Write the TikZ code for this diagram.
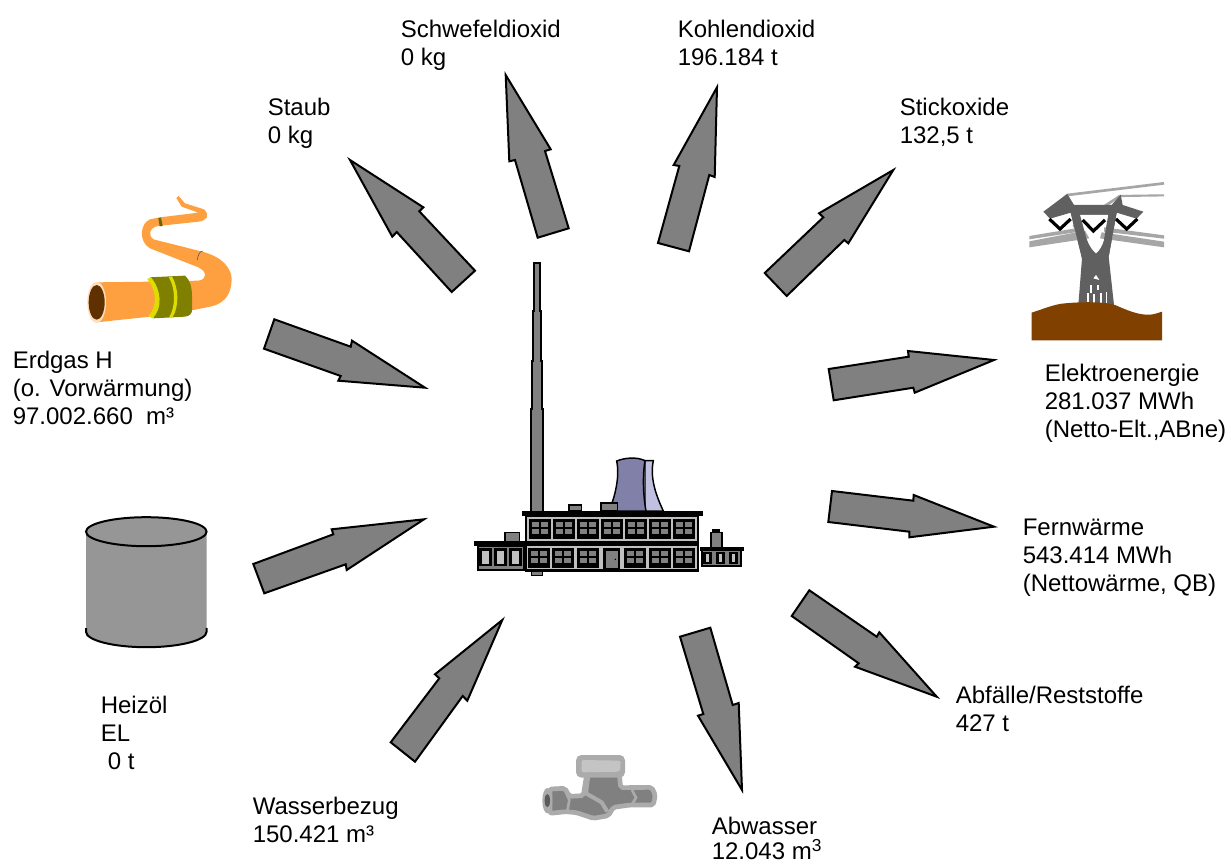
\documentclass[tikz,border=0pt]{standalone}
\usepackage{fontspec}
\setmainfont{Liberation Sans}
\definecolor{arrowgray}{HTML}{808080}
\definecolor{pipeorange}{HTML}{FFA040}
\definecolor{bandolive}{HTML}{808000}
\definecolor{rimyellow}{HTML}{DDDD00}
\definecolor{mouthcream}{HTML}{FFDDBB}
\definecolor{mouthbrown}{HTML}{5F3000}
\definecolor{soil}{HTML}{804000}
\definecolor{towergray}{HTML}{606060}
\definecolor{wiregray}{HTML}{A6A6A6}
\definecolor{barrelgray}{HTML}{969696}
\definecolor{wallgray}{HTML}{C0C0C0}
\definecolor{coolA}{HTML}{8080A8}
\definecolor{coolB}{HTML}{C0C0E0}
\definecolor{valveA}{HTML}{ABABAB}
\definecolor{valveB}{HTML}{808080}
\definecolor{valveC}{HTML}{C4C4C4}
\tikzset{
  flow/.style={draw=black,fill=arrowgray,line width=1.5pt,miter limit=10,line join=miter},
  lab/.style={anchor=north west,inner sep=0pt,align=left,font=\fontsize{18}{21}\selectfont},
  plantline/.style={draw=black,line width=1.1pt},
}
\newcommand{\blockarrow}[7]{\path[flow] #1 -- #2 -- #3 -- #4 -- #5 -- #6 -- #7 -- cycle;}
\newcommand{\winA}[2]{%
  \fill[black] (#1,#2) rectangle ++(66,58);
  \fill[arrowgray] (#1+9,#2+8) rectangle ++(21,16);
  \fill[arrowgray] (#1+36,#2+8) rectangle ++(21,16);
  \fill[arrowgray] (#1+9,#2+30) rectangle ++(21,15);
  \fill[arrowgray] (#1+36,#2+30) rectangle ++(21,15);
}
\begin{document}
\begin{tikzpicture}[x=0.75pt,y=-0.75pt]
\useasboundingbox (0,0) rectangle (1231,866);
\fill[white] (0,0) rectangle (1231,866);

% --- flow arrows
\blockarrow{(350,160)}{(423.3,207.3)}{(419.3,211.3)}{(475,270.7)}{(451.7,292)}{(396.7,232)}{(392.3,236.7)}
\blockarrow{(505.7,75)}{(550.7,149.3)}{(545,151)}{(568.7,228.3)}{(537.7,237.7)}{(515,160)}{(509.3,161.3)}
\blockarrow{(717,87.3)}{(714.7,177)}{(709.3,175)}{(689,251.3)}{(658,243)}{(679.3,166)}{(673.7,165)}
\blockarrow{(893.3,170)}{(848.3,243.3)}{(844.3,240)}{(786.7,296)}{(764.7,273)}{(823.3,217.3)}{(819,213.3)}
\blockarrow{(994,360)}{(914.7,392.7)}{(913.3,387.7)}{(833.7,400.3)}{(828.7,369)}{(908.7,356.7)}{(908,351)}
\blockarrow{(994,526.7)}{(909.3,537.3)}{(909.3,531.7)}{(828.3,522)}{(832,491)}{(913.3,500.7)}{(913.7,495)}
\blockarrow{(936.7,696.7)}{(855,666.7)}{(858.7,663.3)}{(791.7,616)}{(809.3,590.3)}{(876.7,636.7)}{(879.3,632.3)}
\blockarrow{(742,790)}{(698,715.7)}{(703.3,714)}{(680,636.7)}{(710.3,627.7)}{(732.7,705)}{(738.7,703)}
\blockarrow{(425,387.7)}{(338.3,380.7)}{(340.7,376)}{(264,348.7)}{(274.3,319.3)}{(350.7,346.7)}{(352,340.7)}
\blockarrow{(424,519.3)}{(346.7,570)}{(345.7,564.3)}{(264.3,593.3)}{(253.3,564)}{(333.3,534.3)}{(331.7,529.3)}
\blockarrow{(502.3,620)}{(467.3,700.7)}{(462.7,696)}{(415,761.7)}{(390.7,742.3)}{(439.3,678.3)}{(435,674.3)}

% --- labels
\node[lab] (so2) at (400.5,19.5) {Schwefeldioxid\\0 kg};
\node[lab] (co2) at (677.5,19.5) {Kohlendioxid\\196.184 t};
\node[lab] (staub) at (267.5,98) {Staub\\0 kg};
\node[lab] (nox) at (899.5,98) {Stickoxide\\132,5 t};
\node[lab] (gas) at (12.5,351) {Erdgas H\\(o. Vorwärmung)\\97.002.660\ \ m³};
\node[lab] (elt) at (1044.5,363.5) {Elektroenergie\\281.037 MWh\\(Netto-Elt.,ABne)};
\node[lab] (fw) at (1022.5,519) {Fernwärme\\543.414 MWh\\(Nettowärme, QB)};
\node[lab] (abf) at (955.5,686) {Abfälle/Reststoffe\\427 t};
\node[lab] (abw) at (711.5,817) {Abwasser\\[-2pt]12.043 m\raisebox{6pt}{\fontsize{13}{13}\selectfont 3}};
\node[lab] (was) at (252.5,797) {Wasserbezug\\150.421 m³};
\node[lab] (oil) at (100.5,696) {Heizöl\\EL\\\hspace*{5.25pt}0 t};

% --- oil barrel
\fill[barrelgray] (86,531.7) -- (86,631.7) arc[start angle=180,end angle=0,x radius=60.3,y radius=15.5] -- (206.7,531.7) -- cycle;
\draw[line width=1.5pt] (86,628) -- (86,631.7) arc[start angle=180,end angle=0,x radius=60.3,y radius=15.5] -- (206.7,628);
\draw[line width=1.5pt,fill=barrelgray] (146.3,531.7) ellipse[x radius=60.3,y radius=14.5];

% --- gas pipe
\begin{scope}[shift={(70,180)},x=0.25pt,y=-0.25pt]
\fill[pipeorange] (80,427) -- (240,410) -- (360,392) -- (420,380) .. controls (470,370) and (485,335) .. (485,295)
  .. controls (480,245) and (430,222) .. (385,212) -- (250,178) .. controls (235,170) and (235,142) .. (265,138)
  -- (385,125) .. controls (412,122) and (420,105) .. (402,88) -- (345,70) -- (326,48) -- (319,54) -- (335,80) -- (385,98)
  -- (270,112) -- (240,118) .. controls (210,130) and (205,185) .. (240,205) -- (385,262)
  .. controls (412,275) and (412,298) .. (385,302) -- (240,305) -- (80,307) -- cycle;
\fill[bandolive] (240,292) -- (345,287) .. controls (360,300) and (366,320) .. (366,350) -- (366,390) .. controls (366,400) and (360,408) .. (345,410) -- (250,415) .. controls (262,380) and (262,330) .. (240,292) -- cycle;
\fill[rimyellow] (232,298) -- (242,291) .. controls (275,330) and (278,385) .. (248,415) -- (234,408) .. controls (262,385) and (262,330) .. (232,298) -- cycle;
\fill[rimyellow] (296,291) -- (306,290) .. controls (327,325) and (327,380) .. (308,411) -- (298,411) .. controls (317,380) and (317,325) .. (296,291) -- cycle;
\fill[bandolive!80!black] (265,114) -- (273,113) -- (278,138) -- (269,139) -- cycle;
\draw[black!70,line width=0.4pt] (382,240) .. controls (384,225) and (388,215) .. (398,213);
\fill[mouthcream] (80,367) ellipse[x radius=28,y radius=62];
\fill[mouthbrown] (80,367) ellipse[x radius=24,y radius=52];
\end{scope}

% --- pylon
\begin{scope}[shift={(1010,170)},x=0.25pt,y=-0.25pt]
\draw[wiregray,line width=2pt] (172,75) -- (462,40);
\draw[wiregray,line width=1.6pt] (330,78) -- (462,76);
\draw[wiregray,line width=2pt] (172,75) -- (122,115);
\draw[wiregray,line width=2pt] (330,78) -- (190,170);
\fill[towergray] (100,125) -- (172,72) -- (192,105) -- (305,105) -- (332,74) -- (338,105) -- (400,125) -- (380,146) -- (320,128) -- (296,260) -- (312,405) -- (205,405) -- (216,265) -- (182,128) -- (120,146) -- cycle;
\fill[white] (208,135) .. controls (222,195) and (238,235) .. (258,250) .. controls (278,235) and (292,190) .. (302,135) -- cycle;
\fill[wiregray] (58,198) -- (215,172) -- (215,184) -- (58,208) -- cycle;
\fill[wiregray] (58,214) -- (225,182) -- (238,205) -- (58,232) -- cycle;
\fill[wiregray] (282,172) -- (462,196) -- (462,206) -- (282,185) -- cycle;
\fill[wiregray] (275,187) -- (462,215) -- (462,232) -- (270,205) -- cycle;
\fill[towergray] (182,128) -- (208,128) -- (232,215) -- (216,265) -- cycle;
\fill[towergray] (320,128) -- (296,128) -- (280,220) -- (296,260) -- cycle;
\fill[towergray] (230,235) -- (258,256) -- (285,235) -- (296,265) -- (216,265) -- cycle;
\fill[white] (250,325) -- (258,315) -- (268,330) -- cycle;
\foreach \xa/\ya/\xb/\yb in {240/345/246/370,262/345/268/360,232/368/238/398,250/372/256/400,270/370/276/398,288/365/292/398}
  \fill[white] (\xa,\ya) rectangle (\xb,\yb);
\foreach \xa/\xb/\xc/\ya/\yb in {118/150/182/147/177,218/250/285/150/183,318/350/382/147/177}{
  \draw[black,line width=2.4pt] (\xa,\ya) -- (\xb,\yb) -- (\xc,\ya);
}
\fill[soil] (65,428) .. controls (105,415) and (135,402) .. (165,400) .. controls (220,395) and (280,395) .. (315,405)
  .. controls (350,420) and (385,436) .. (420,434) .. controls (435,433) and (445,428) .. (456,425) -- (456,511) -- (65,511) -- cycle;
\end{scope}

% --- chimney
\path[draw=black,fill=arrowgray,line width=1.3pt] (534,263) -- (540,263) -- (540,311) -- (541,311) -- (541,361) -- (542,361) -- (542,409) -- (543,409) -- (543,512) -- (531,512) -- (531,409) -- (532,409) -- (532,361) -- (533,361) -- (533,311) -- (534,311) -- cycle;

% --- power plant
\begin{scope}[shift={(465,440)},x=0.25pt,y=-0.25pt]
% cooling tower
\path[fill=coolB,draw=black,line width=1.1pt] (540,62) -- (565,62) .. controls (555,110) and (570,160) .. (595,213) -- (540,213) -- cycle;
\path[fill=coolA,draw=black,line width=1.1pt] (455,63) .. controls (480,53) and (515,50) .. (540,62) .. controls (532,110) and (535,170) .. (543,213) -- (432,213) .. controls (450,170) and (465,110) .. (455,63) -- cycle;
% vents
\path[fill=arrowgray,plantline] (312,195) rectangle (349,212);
\path[fill=arrowgray,plantline] (408,189) rectangle (458,212);
\path[fill=arrowgray,plantline] (120,277) rectangle (164,304);
% base below chimney
\path[fill=arrowgray,plantline] (199,392) rectangle (233,406);
% left wing
\fill[black] (35,315) rectangle (180,394);
\fill[arrowgray] (42,322) rectangle (174,386);
\foreach \xa in {42,87,132}{
  \fill[black] (\xa,323) rectangle ++(38,56);
  \fill[wallgray] (\xa+8,332) rectangle ++(22,40);
}
\fill[black] (28,303) rectangle (182,317);
% right wing and tower
\path[fill=arrowgray,plantline] (738,278) rectangle (771,322);
\path[fill=black] (742,266) rectangle (766,280);
\fill[black] (708,325) rectangle (832,381);
\fill[arrowgray] (714,332) rectangle (826,374);
\foreach \xa in {715,753,793}{
  \fill[black] (\xa,336) rectangle ++(26,36);
  \fill[wallgray] (\xa+8,343) rectangle ++(10,24);
}
\fill[black] (705,320) rectangle (838,332);
% main block
\fill[black] (180,225) rectangle (703,396);
\fill[wallgray] (187,232) rectangle (696,303);
\fill[wallgray] (187,319) rectangle (696,388);
\fill[black] (172,212) rectangle (715,228);
\fill[black] (180,303) rectangle (703,318);
\foreach \xa in {191,264,337,409,481,553,625}{ \winA{\xa}{238} }
\foreach \xa in {189,262,335,477,551,625}{ \winA{\xa}{325} }
% door
\fill[black] (415,325) rectangle (465,388);
\fill[arrowgray] (422,333) rectangle (458,384);
\fill[black] (451,358) circle[radius=2.5];
\end{scope}

% --- valve
\begin{scope}[shift={(530,745)},x=0.25pt,y=-0.25pt]
\path[draw=valveA,fill=valveB,line width=3.5pt,line join=round,rounded corners=1.5pt]
  (60,132) -- (105,130) -- (118,154) -- (160,152) -- (170,88) -- (268,88) -- (272,128) -- (365,127) -- (376,150) -- (370,180) -- (300,180) -- (250,187) -- (235,212) -- (190,220) -- (140,203) -- (108,200) -- (60,205) -- cycle;
\fill[valveA,rounded corners=4pt] (138,30) rectangle (285,98);
\fill[valveC,rounded corners=1.5pt] (155,45) -- (272,47) -- (270,80) -- (155,82) -- cycle;
\draw[valveA,line width=3pt,line join=round] (175,90) -- (168,145) -- (215,172) -- (232,200);
\draw[valveA,line width=2pt] (306,135) -- (318,158) -- (306,178);
\draw[valveA,line width=2pt] (105,135) -- (118,165) -- (112,198);
\fill[valveA] (52,167) ellipse[x radius=15,y radius=38];
\fill[valveB!70!black] (52,167) ellipse[x radius=8,y radius=20];
\end{scope}
\end{tikzpicture}
\end{document}
